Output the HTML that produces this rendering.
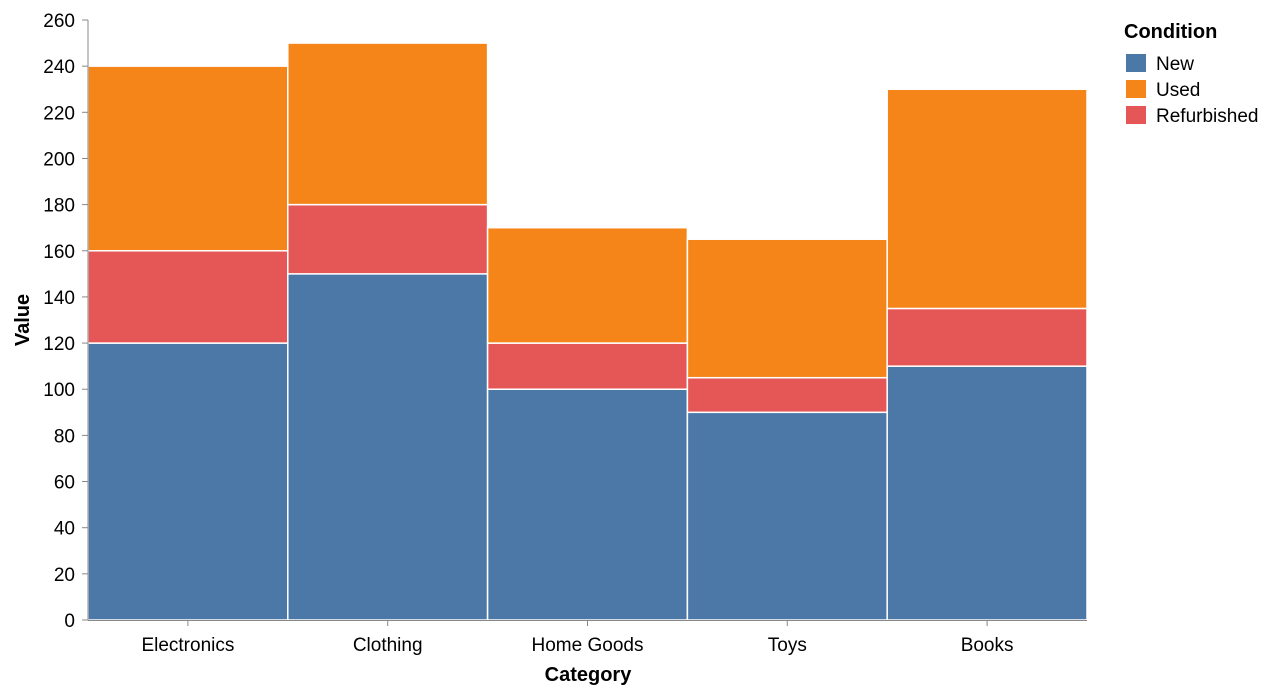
<!DOCTYPE html>
<html><head><meta charset="utf-8">
<style>
html,body{margin:0;padding:0;background:#fff;}
svg{display:block;font-family:"Liberation Sans",Arial,sans-serif;}
</style></head>
<body>
<svg id="chart" width="1274" height="694" viewBox="0 0 1274 694" xmlns="http://www.w3.org/2000/svg">
<g id="bars"></g>
<g id="yaxis"></g>
<g id="xaxis"></g>
<text transform="translate(29,320) rotate(-90)" text-anchor="middle" font-size="20" font-weight="bold" fill="#000">Value</text>
<text x="588" y="681" text-anchor="middle" font-size="20" font-weight="bold" fill="#000">Category</text>
<g id="legend">
<text x="1124" y="38" font-size="20" font-weight="bold" fill="#000">Condition</text>
</g>
</svg>
<script>
const categories = ["Electronics","Clothing","Home Goods","Toys","Books"];
const seriesNames = ["New","Refurbished","Used"];
const newVals = [120,150,100,90,110];
const refurbVals = [40,30,20,15,25];
const usedVals = [80,70,50,60,95];
const yTicks = [0,20,40,60,80,100,120,140,160,180,200,220,240,260];
const legendNames = ["New","Used","Refurbished"];

const colors = {New:"#4c78a8",Used:"#f58518",Refurbished:"#e45756"};
const NS="http://www.w3.org/2000/svg";
const x0=88,x1=1087,y0=620,y1=20,yMax=260;
const y=v=>y0-(v/yMax)*(y0-y1);
const bw=(x1-x0)/categories.length;
const xb=i=>x0+i*bw;
function mk(tag,attrs,parent){const e=document.createElementNS(NS,tag);for(const k in attrs)e.setAttribute(k,attrs[k]);parent.appendChild(e);return e;}

const bars=document.getElementById('bars');
const series=[newVals,refurbVals,usedVals];
categories.forEach((c,i)=>{
  let base=0;
  series.forEach((arr,s)=>{
    const v=arr[i];
    const r=mk('rect',{x:xb(i),y:y(base+v),width:bw,height:y(base)-y(base+v),fill:colors[seriesNames[s]],stroke:"#fff","stroke-width":1.5},bars);
    
    
    base+=v;
  });
});

const ya=document.getElementById('yaxis');
const yl=mk('line',{x1:x0,y1:y1,x2:x0,y2:y0,stroke:"#888"},ya);


yTicks.forEach(t=>{
  const tk=mk('line',{x1:x0-6,y1:y(t),x2:x0,y2:y(t),stroke:"#888"},ya);
  
  
  const tx=mk('text',{x:x0-13,y:y(t)+7,"text-anchor":"end","font-size":19,fill:"#000"},ya);
  tx.textContent=t;
  
  
});

const xa=document.getElementById('xaxis');
const xl=mk('line',{x1:x0,y1:y0+0.5,x2:x1,y2:y0+0.5,stroke:"#888"},xa);


categories.forEach((c,i)=>{
  const cx=xb(i)+bw/2;
  const tk=mk('line',{x1:cx,y1:y0,x2:cx,y2:y0+6,stroke:"#888"},xa);
  
  
  const tx=mk('text',{x:cx,y:y0+31,"text-anchor":"middle","font-size":19,fill:"#000"},xa);
  tx.textContent=c;
  
  
});

const lg=document.getElementById('legend');
legendNames.forEach((n,i)=>{
  const yy=54+i*26;
  const g=mk('g',{},lg);
  
  
  mk('rect',{x:1126,y:yy,width:20,height:18,fill:colors[n]},g);
  const t=mk('text',{x:1156,y:yy+16,"font-size":19,fill:"#000"},g);
  t.textContent=n;
});
</script>
</body></html>
